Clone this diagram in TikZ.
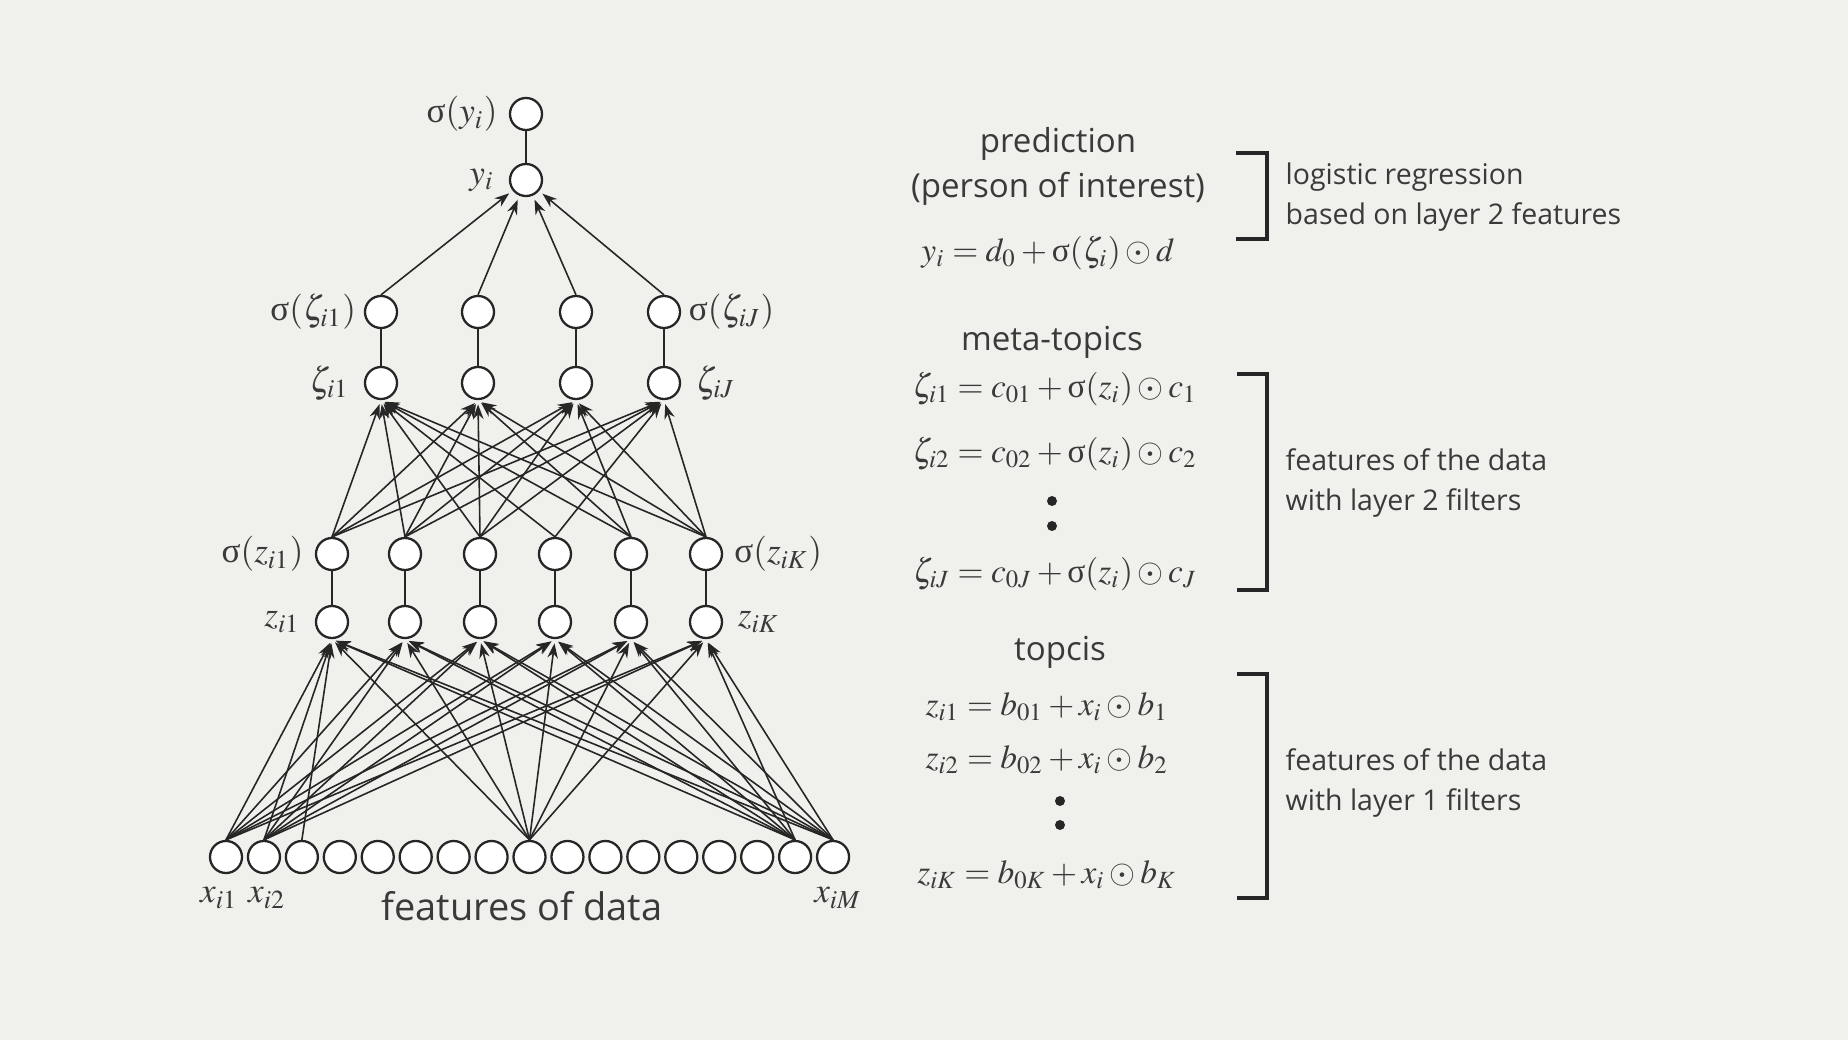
\documentclass[tikz,border=0pt]{standalone}
\usepackage{mathptmx}
\usepackage[no-math]{fontspec}
\setmainfont{Open Sans}
\newfontfamily\grkfont{Liberation Serif}
\newcommand{\sgm}{\mbox{\grkfont σ}}
\usepackage{tikz}
\usetikzlibrary{arrows.meta, positioning}
\definecolor{bg}{RGB}{240,240,237}
\definecolor{ink}{RGB}{38,38,38}
\definecolor{txt}{RGB}{58,58,58}
\tikzstyle{unit} = [circle, draw=ink, line width=0.65pt, fill=white, minimum size=0.32cm, inner sep=0pt]
\tikzstyle{arrow} = [ink, line width=0.45pt, -{Stealth[length=4.2pt,width=3pt]}, shorten >=1.2pt]
\tikzstyle{link} = [ink, line width=0.55pt]
\tikzstyle{lbl} = [text=txt, inner sep=0pt, font=\fontsize{10}{12}\selectfont]
\tikzstyle{title} = [text=txt, inner sep=0pt, font=\fontsize{9.4}{12}\selectfont]
\tikzstyle{eqn} = [text=txt, inner sep=0pt, font=\fontsize{9.5}{12}\selectfont]
\tikzstyle{note} = [text=txt, inner sep=0pt, anchor=west, align=left, font=\fontsize{8.1}{11.2}\selectfont]
\tikzstyle{bracket} = [ink, line width=1.1pt]

\begin{document}
\begin{tikzpicture}[x=0.01cm, y=-0.01cm]

\fill[bg] (0,0) rectangle (1848,1040);

% network
\node (sy) [unit] at (526,114) {};
\node (y) [unit] at (526,180) {};

\node (sc1) [unit] at (381,312) {};
\node (sc2) [unit] at (478,312) {};
\node (sc3) [unit] at (576,312) {};
\node (sc4) [unit] at (664,312) {};
\node (c1) [unit] at (381,383) {};
\node (c2) [unit] at (478,383) {};
\node (c3) [unit] at (576,383) {};
\node (c4) [unit] at (664,383) {};

\node (sz1) [unit] at (332,554) {};
\node (sz2) [unit] at (405,554) {};
\node (sz3) [unit] at (480,554) {};
\node (sz4) [unit] at (555,554) {};
\node (sz5) [unit] at (631,554) {};
\node (sz6) [unit] at (706,554) {};
\node (z1) [unit] at (332,622) {};
\node (z2) [unit] at (405,622) {};
\node (z3) [unit] at (480,622) {};
\node (z4) [unit] at (555,622) {};
\node (z5) [unit] at (631,622) {};
\node (z6) [unit] at (706,622) {};

\foreach \i in {1,...,17}
  \node (x\i) [unit] at ({226+(\i-1)*37.94},857) {};

\draw [link] (y) -- (sy);
\foreach \i in {1,...,4}
  \draw [link] (c\i) -- (sc\i);
\foreach \i in {1,...,6}
  \draw [link] (z\i) -- (sz\i);

\foreach \i in {1,...,4}
  \draw [arrow] (sc\i.north) -- (y);
\foreach \s/\t in {1/1,1/2,1/3,1/4, 2/1,2/2,2/3,2/4, 3/1,3/2,3/3,3/4,
                   4/1,4/4, 5/1,5/2,5/3, 6/1,6/2,6/3,6/4}
  \draw [arrow] (sz\s.north) -- (c\t.south);
\foreach \s in {1,2,9,16,17}
  \foreach \t in {1,...,6}
    \draw [arrow] (x\s.north) -- (z\t.south);
\draw [arrow] (x3.north) -- (z1.south);

\node (lsy) [lbl, left=3pt of sy] {$\sgm(y_i)$};
\node (ly) [lbl, left=4pt of y] {$y_i$};
\node (lsc1) [lbl, left=2pt of sc1] {$\sgm(\zeta_{i1})$};
\node (lsc4) [lbl, right=2pt of sc4] {$\sgm(\zeta_{iJ})$};
\node (lc1) [lbl, left=4pt of c1] {$\zeta_{i1}$};
\node (lc4) [lbl, right=4pt of c4] {$\zeta_{iJ}$};
\node (lsz1) [lbl, left=3pt of sz1] {$\sgm(z_{i1})$};
\node (lsz6) [lbl, right=3pt of sz6] {$\sgm(z_{iK})$};
\node (lz1) [lbl, left=4pt of z1] {$z_{i1}$};
\node (lz6) [lbl, right=4pt of z6] {$z_{iK}$};
\node (lx1) [lbl] at (219,898) {$x_{i1}$};
\node (lx2) [lbl] at (267,898) {$x_{i2}$};
\node (lx17) [lbl] at (838,898) {$x_{iM}$};
\node (data) [text=txt, font=\fontsize{10.8}{13}\selectfont] at (522,906) {features of data};

% equations
\node (pred) [title] at (1058,144) {prediction};
\node (poi) [title] at (1058,189) {(person of interest)};
\node (eqy) [eqn] at (1048,253) {$y_i = d_0 + \sgm(\zeta_i) \odot d$};

\node (meta) [title] at (1052,342) {meta-topics};
\node (eqc1) [eqn] at (1055,389) {$\zeta_{i1} = c_{01} + \sgm(z_i) \odot c_1$};
\node (eqc2) [eqn] at (1055,454) {$\zeta_{i2} = c_{02} + \sgm(z_i) \odot c_2$};
\node (eqcJ) [eqn] at (1055,574) {$\zeta_{iJ} = c_{0J} + \sgm(z_i) \odot c_J$};
\fill[ink] (1052,501) circle (0.05cm) (1052,526) circle (0.05cm);

\node (topic) [title] at (1060,652) {topcis};
\node (eqz1) [eqn] at (1047,707) {$z_{i1} = b_{01} + x_i \odot b_1$};
\node (eqz2) [eqn] at (1047,760) {$z_{i2} = b_{02} + x_i \odot b_2$};
\node (eqzK) [eqn] at (1047,875) {$z_{iK} = b_{0K} + x_i \odot b_K$};
\fill[ink] (1060,801) circle (0.05cm) (1060,825) circle (0.05cm);

\draw [bracket] (1236,153) -- (1267,153) -- (1267,239) -- (1236,239);
\draw [bracket] (1237,374) -- (1267,374) -- (1267,590) -- (1237,590);
\draw [bracket] (1237,674) -- (1267,674) -- (1267,898) -- (1237,898);

\node (n1) [note] at (1285,197) {logistic regression\\based on layer 2 features};
\node (n2) [note] at (1285,483) {features of the data\\with layer 2 filters};
\node (n3) [note] at (1285,783) {features of the data\\with layer 1 filters};

\end{tikzpicture}
\end{document}
